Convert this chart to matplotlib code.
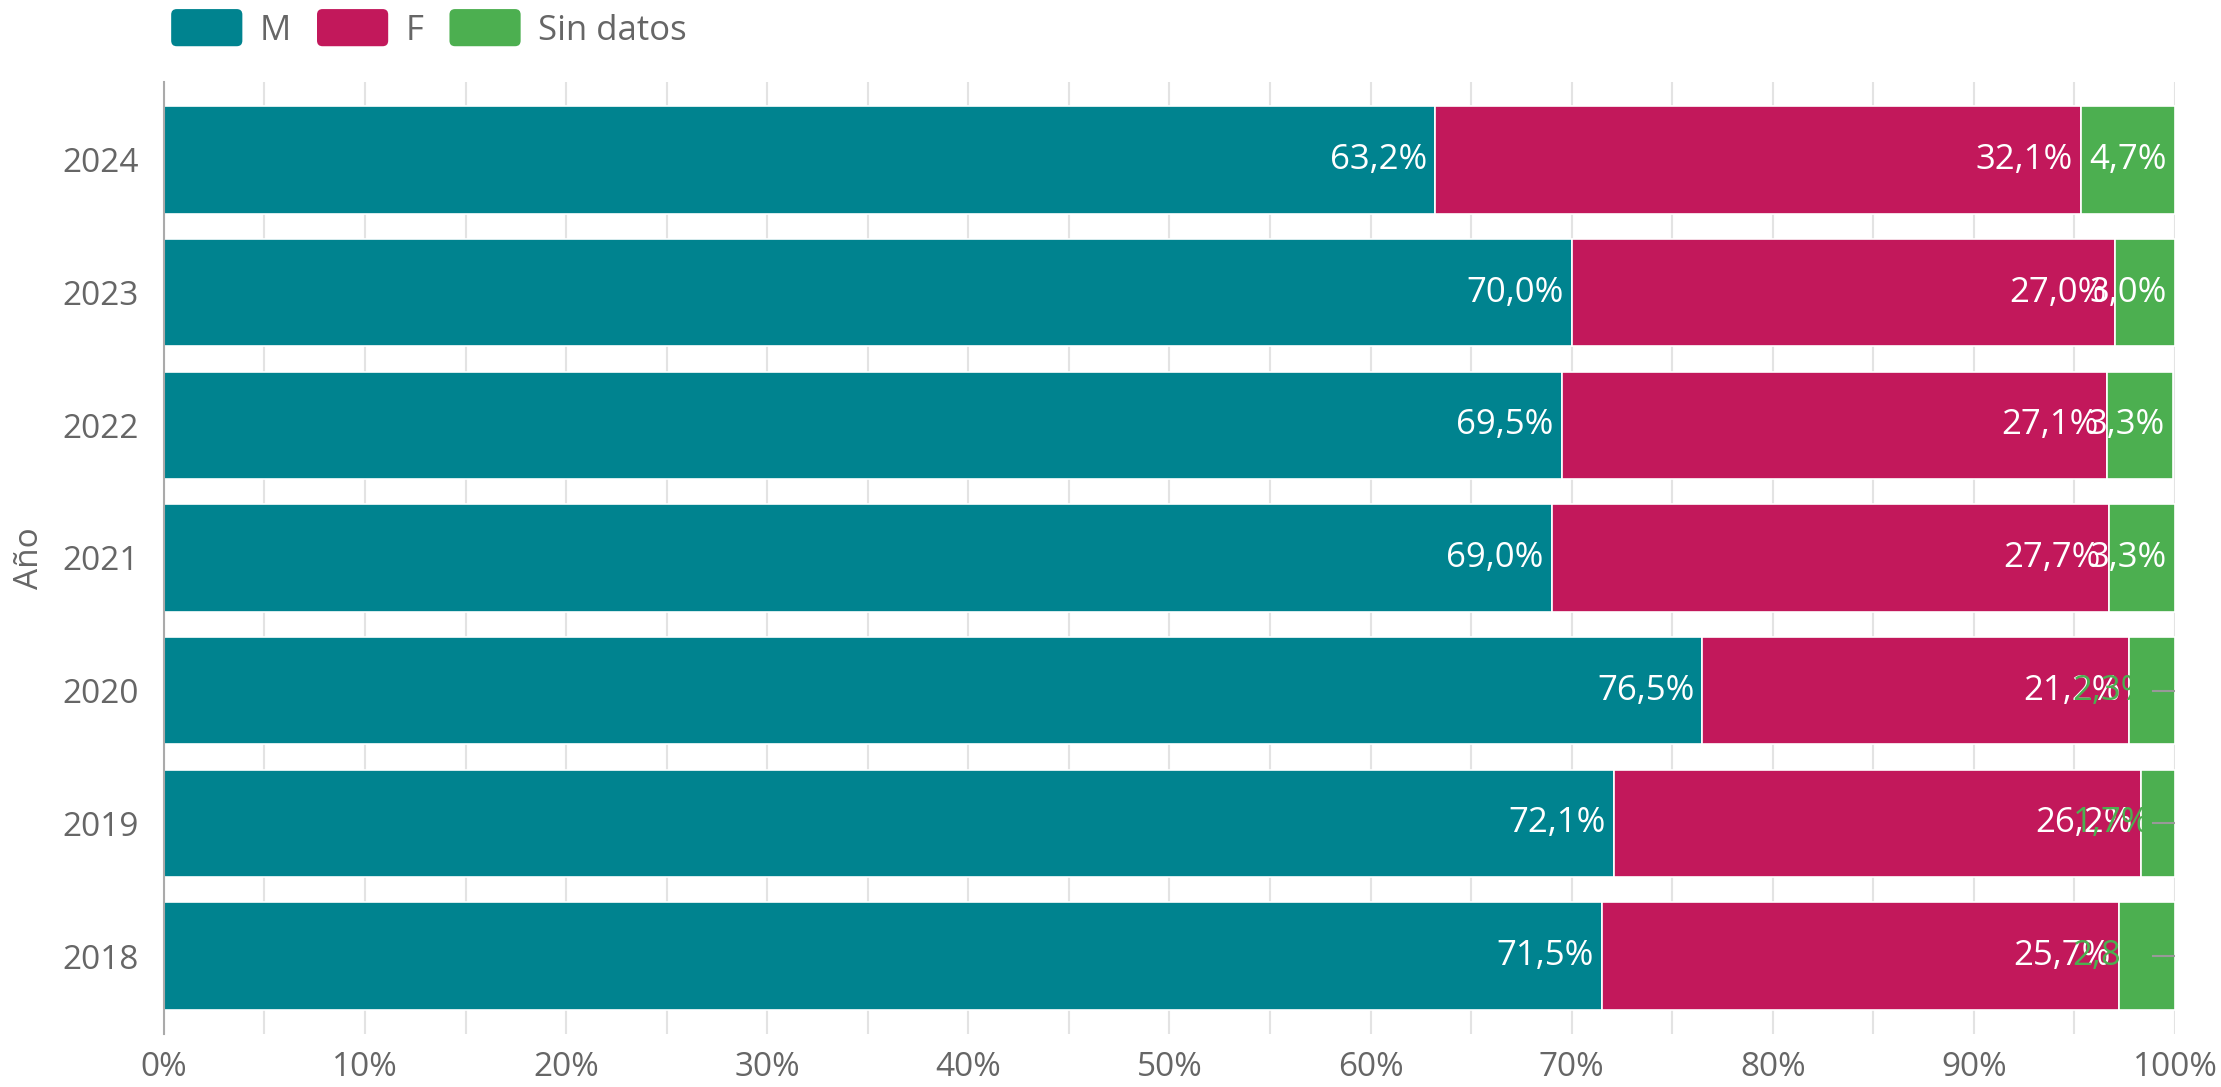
import matplotlib
matplotlib.use("Agg")
import matplotlib.pyplot as plt
from matplotlib.legend_handler import HandlerPatch
from matplotlib.patches import FancyBboxPatch, Patch
import numpy as np

# datos
years = ["2018", "2019", "2020", "2021", "2022", "2023", "2024"]
m_vals = [71.5, 72.1, 76.5, 69.0, 69.5, 70.0, 63.2]
f_vals = [25.7, 26.2, 21.2, 27.7, 27.1, 27.0, 32.1]
sd_vals = [2.8, 1.7, 2.3, 3.3, 3.3, 3.0, 4.7]
series_names = ["M", "F", "Sin datos"]
colors = ["#00838F", "#C2185B", "#4CAF50"]

plt.rcParams["font.family"] = ["Open Sans", "DejaVu Sans"]
grey = "#666666"


class RoundHandler(HandlerPatch):
    def create_artists(self, legend, orig_handle, xdescent, ydescent,
                       width, height, fontsize, trans):
        p = FancyBboxPatch((-xdescent, -ydescent - 3), width, height + 6,
                           boxstyle="round,pad=0,rounding_size=4",
                           facecolor=orig_handle.get_facecolor(),
                           edgecolor="none", transform=trans)
        return [p]


fig = plt.figure(figsize=(22.21, 10.87), dpi=100)
ax = fig.add_axes([0.0738, 0.0488, 0.9055, 0.8758])

y = np.arange(len(years))
h = 0.81
left = np.zeros(len(years))
for vals, col in zip([m_vals, f_vals, sd_vals], colors):
    ax.barh(y, vals, left=left, height=h, color=col, edgecolor="white",
            linewidth=1.2, zorder=2)
    left = left + np.array(vals)

# etiquetas
cum = np.zeros(len(years))
for k, vals in enumerate([m_vals, f_vals, sd_vals]):
    for i, v in enumerate(vals):
        end = cum[i] + v
        txt = f"{v:.1f}%".replace(".", ",")
        if k == 2 and v < 3:
            ax.text(98.75, i, txt, ha="right", va="center", color=colors[2],
                    fontsize=25, zorder=4)
            ax.plot([98.9, 100], [i, i], color="#999999", lw=1.5, zorder=3)
        else:
            ax.text(end - 0.4, i, txt, ha="right", va="center",
                    color="white", fontsize=25, zorder=4)
    cum = cum + np.array(vals)

ax.set_xlim(0, 100)
ax.set_ylim(-0.587, 6.587)
ax.set_xticks(np.arange(0, 101, 10))
ax.set_xticklabels([f"{t}%" for t in range(0, 101, 10)])
ax.set_xticks(np.arange(0, 101, 5), minor=True)
ax.set_yticks(y)
ax.set_yticklabels(years)
ax.tick_params(axis="both", length=0, labelsize=24, labelcolor=grey)
ax.tick_params(axis="x", which="minor", length=0)
ax.tick_params(axis="y", pad=18)
ax.tick_params(axis="x", pad=12)
ax.grid(axis="x", which="both", color="#e3e3e3", lw=1.5, zorder=0)
ax.set_axisbelow(True)
for s in ["top", "right", "bottom"]:
    ax.spines[s].set_visible(False)
ax.spines["left"].set_color("#aaaaaa")
ax.spines["left"].set_linewidth(1.5)
ax.set_ylabel("Año", fontsize=24, color=grey, labelpad=12)

handles = [Patch(facecolor=c) for c in colors]
fig.legend(handles, series_names, loc="center left",
           bbox_to_anchor=(0.063, 0.972), ncol=3, frameon=False,
           fontsize=25, labelcolor=grey, handlelength=2.05, handleheight=0.9,
           handletextpad=0.5, columnspacing=0.75,
           handler_map={Patch: RoundHandler()})

fig.savefig("out.png", dpi=100)
